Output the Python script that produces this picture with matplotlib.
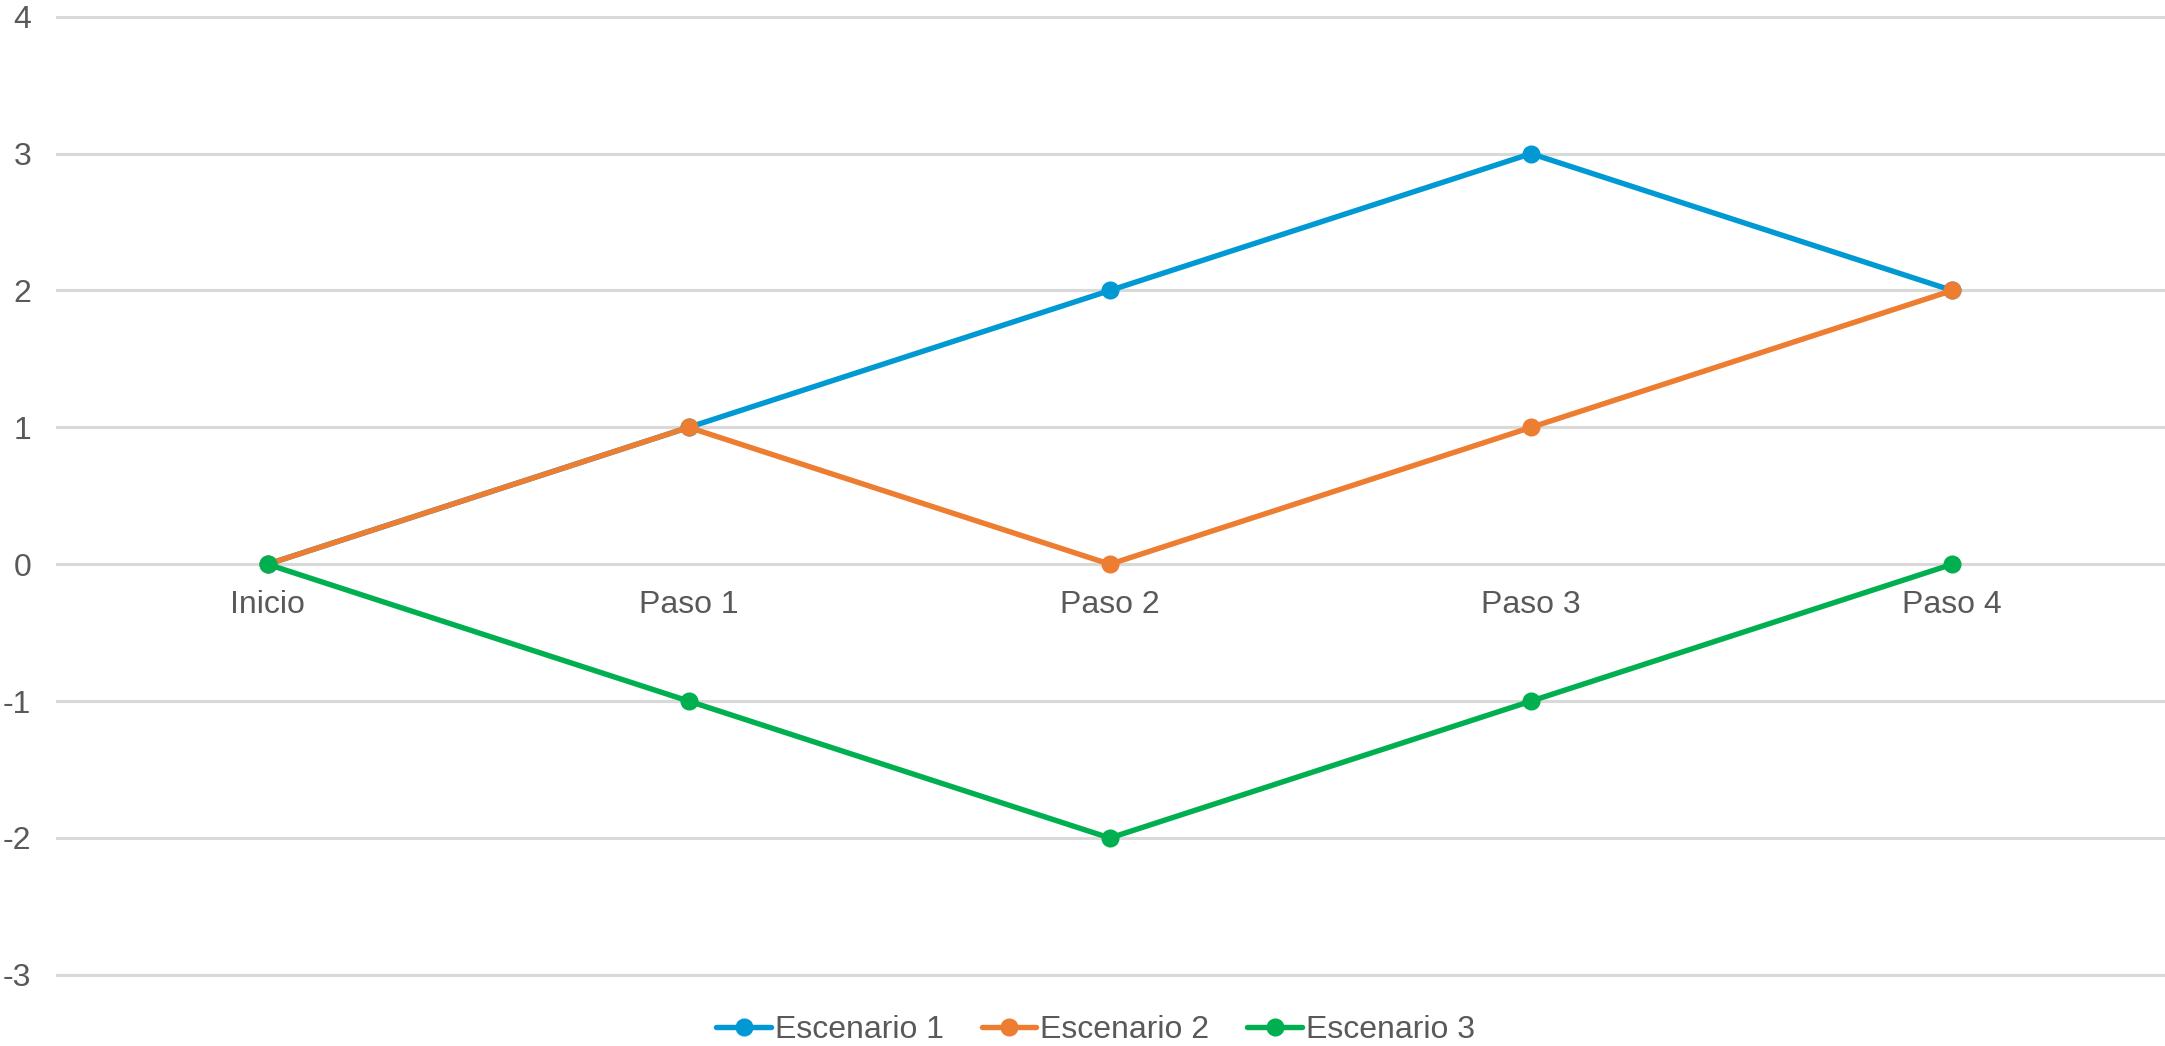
import matplotlib
matplotlib.use("Agg")
import matplotlib.pyplot as plt

categories = ["Inicio", "Paso 1", "Paso 2", "Paso 3", "Paso 4"]
series_names = ["Escenario 1", "Escenario 2", "Escenario 3"]
escenario1 = [0, 1, 2, 3, 2]
escenario2 = [0, 1, 0, 1, 2]
escenario3 = [0, -1, -2, -1, 0]
colors = ["#0099d4", "#ed7d31", "#00b050"]
yticks = [-3, -2, -1, 0, 1, 2, 3, 4]

plt.rcParams['font.family'] = ['Liberation Sans', 'DejaVu Sans']
text_color = "#595959"

fig = plt.figure(figsize=(21.65, 10.46), dpi=100)
ax = fig.add_axes([0.0263, 0.068, 0.9727, 0.916])

x = list(range(len(categories)))
for i, (name, vals) in enumerate(zip(series_names, [escenario1, escenario2, escenario3])):
    ax.plot(x, vals, color=colors[i], linewidth=3.9, marker='o', markersize=12,
            label=name, zorder=3 + i, solid_capstyle='round', solid_joinstyle='round')

ax.set_xlim(-0.5, len(categories) - 0.5)
ax.set_ylim(-3, 4)
ax.set_yticks(yticks)
ax.set_yticklabels([str(v) for v in yticks])
ax.set_xticks(x)
ax.set_xticklabels(categories)

ax.grid(axis='y', color='#d9d9d9', linewidth=2.2, zorder=0)
ax.set_axisbelow(True)
for gl in ax.get_ygridlines():
    gl.set_clip_on(False)
for s in ['top', 'right', 'left']:
    ax.spines[s].set_visible(False)
ax.spines['bottom'].set_position(('data', 0))
ax.spines['bottom'].set_visible(False)

ax.tick_params(axis='y', length=0, pad=18.5, labelsize=23, labelcolor=text_color)
ax.tick_params(axis='x', length=0, pad=18.5, labelsize=23, labelcolor=text_color)

leg = fig.legend(loc='lower center', bbox_to_anchor=(0.506, -0.027), ncol=3, frameon=False,
                 fontsize=23, handlelength=1.7, handletextpad=0.12, columnspacing=1.2,
                 labelcolor=text_color)

fig.savefig("out.png", dpi=100)
